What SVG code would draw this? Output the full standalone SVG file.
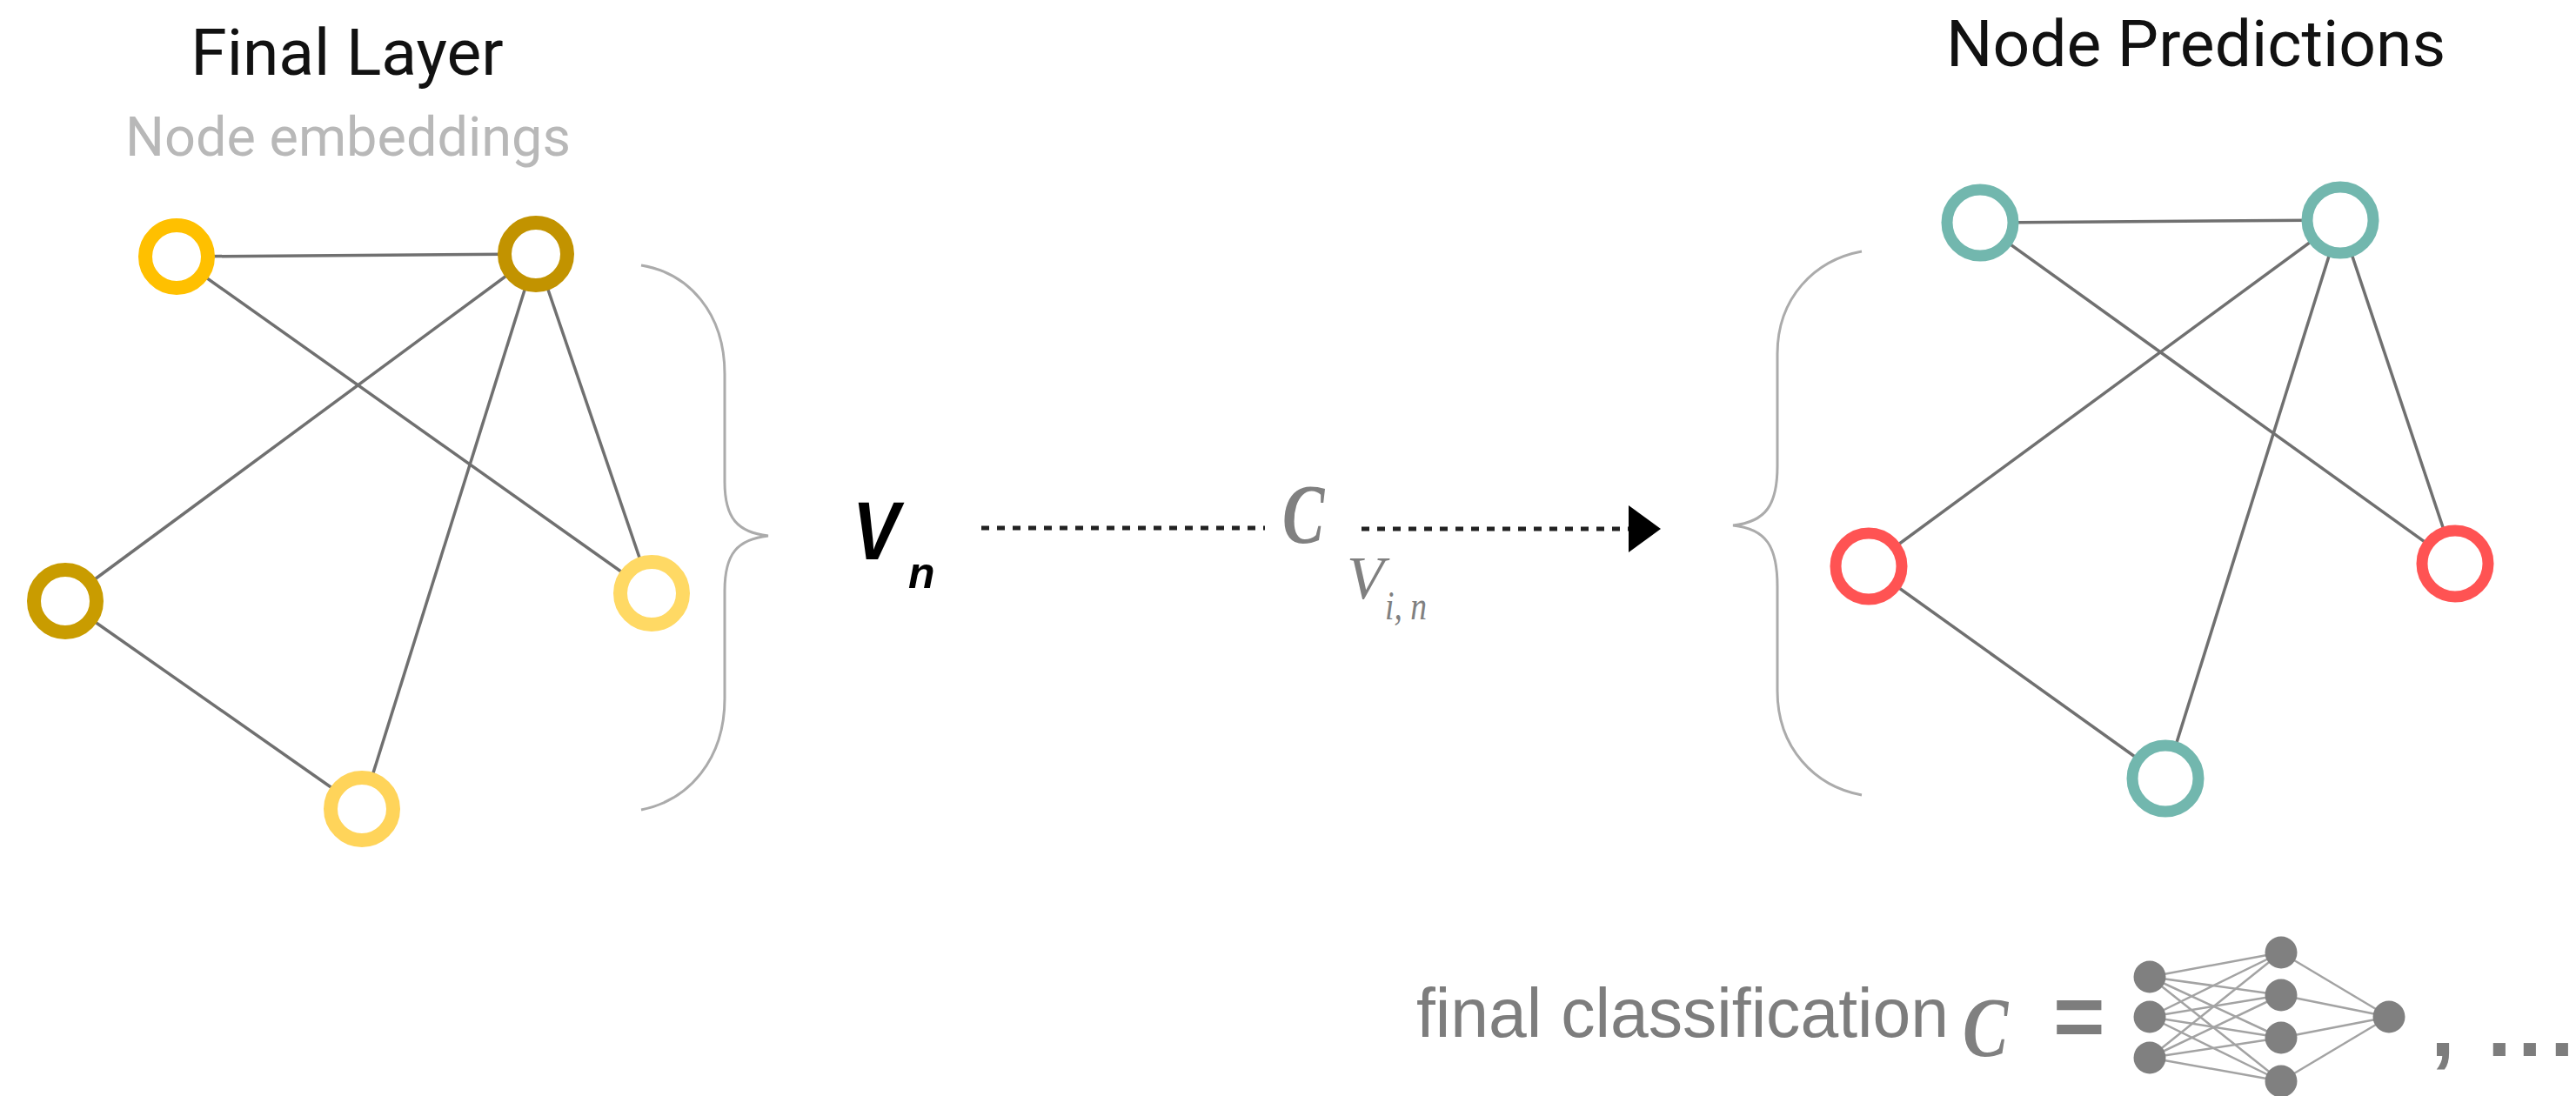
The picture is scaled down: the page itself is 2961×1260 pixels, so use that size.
<svg xmlns="http://www.w3.org/2000/svg" width="2961" height="1260" viewBox="0 0 2961 1260">
  <defs>
    <style>
      .title { font-family: Roboto, "Liberation Sans", sans-serif; font-size: 75px; fill: #111; text-anchor: middle; }
      .subtitle { font-family: Roboto, "Liberation Sans", sans-serif; font-size: 63px; fill: #b8b8b8; text-anchor: middle; }
      .edge { stroke: #707070; stroke-width: 3.5; fill: none; }
      .brace { stroke: #ababab; stroke-width: 3; fill: none; }
      .ringL { fill: #fff; stroke-width: 16; }
      .ringR { fill: #fff; stroke-width: 13; }
      .teal { stroke: #72b7ae; }
      .red { stroke: #ff5353; }
      .dotted { stroke: #222; stroke-width: 5; stroke-dasharray: 9 9; fill: none; }
      .math { font-family: "Liberation Serif", serif; font-style: italic; fill: #808080; }
      .sym { font-weight: bold; }
      .vn { font-family: "Liberation Sans", sans-serif; font-style: italic; font-weight: bold; fill: #000; }
      .caption { font-family: "Liberation Sans", sans-serif; fill: #7d7d7d; }
      .nnEdge { stroke: #a3a3a3; stroke-width: 2.5; }
      .nnNode { fill: #808080; }
    </style>
    <marker id="arrowHead" markerUnits="userSpaceOnUse" markerWidth="37" markerHeight="54" viewBox="0 0 37 54" refX="0" refY="27" orient="auto">
      <path d="M0,0 L37,27 L0,54 Z" fill="#000"/>
    </marker>
  </defs>

  <rect width="2961" height="1260" fill="#fff"/>

  <!-- headings -->
  <text class="title" x="399" y="86">Final Layer</text>
  <text class="subtitle" x="400" y="179">Node embeddings</text>
  <text class="title" x="2524" y="76">Node Predictions</text>

  <!-- edges of both graphs, braces and the mapping arrow -->
  <g id="connectors">
    <!-- final layer graph -->
    <line class="edge" x1="203" y1="295" x2="616" y2="292"/>
    <line class="edge" x1="203" y1="295" x2="749" y2="682"/>
    <line class="edge" x1="616" y1="292" x2="75" y2="691"/>
    <line class="edge" x1="616" y1="292" x2="416" y2="930"/>
    <line class="edge" x1="616" y1="292" x2="749" y2="682"/>
    <line class="edge" x1="75" y1="691" x2="416" y2="930"/>
    <!-- prediction graph -->
    <line class="edge" x1="2276" y1="256" x2="2690" y2="253"/>
    <line class="edge" x1="2276" y1="256" x2="2822" y2="648"/>
    <line class="edge" x1="2690" y1="253" x2="2148" y2="651"/>
    <line class="edge" x1="2690" y1="253" x2="2489" y2="895"/>
    <line class="edge" x1="2690" y1="253" x2="2822" y2="648"/>
    <line class="edge" x1="2148" y1="651" x2="2489" y2="895"/>
    <!-- braces -->
    <path class="brace" d="M737,305 C792,314 833,360 833,430 L833,554 C833,596 848,612 883,616 C848,620 833,636 833,679 L833,803 C833,873 792,920 737,931"/>
    <path class="brace" d="M2140,289 C2086,299 2043,342 2043,407 L2043,536 C2043,580 2030,600 1992,604 C2030,608 2043,628 2043,674 L2043,794 C2043,860 2086,904 2140,914"/>
    <!-- dotted mapping arrow -->
    <line class="dotted" x1="1128" y1="607" x2="1454" y2="607"/>
    <line class="dotted" x1="1565" y1="608" x2="1872" y2="608" marker-end="url(#arrowHead)"/>
  </g>

  <!-- final layer nodes -->
  <g id="node-a"><circle class="ringL" cx="203" cy="295" r="36" stroke="#ffc000"/></g>
  <g id="node-b"><circle class="ringL" cx="616" cy="292" r="36" stroke="#c29300"/></g>
  <g id="node-c"><circle class="ringL" cx="75" cy="691" r="36" stroke="#c99c00"/></g>
  <g id="node-d"><circle class="ringL" cx="749" cy="682" r="36" stroke="#ffd964"/></g>
  <g id="node-e"><circle class="ringL" cx="416" cy="930" r="36" stroke="#ffd45a"/></g>

  <!-- prediction nodes -->
  <g id="node-p"><circle class="ringR teal" cx="2276" cy="256" r="38"/></g>
  <g id="node-q"><circle class="ringR teal" cx="2690" cy="253" r="38"/></g>
  <g id="node-r"><circle class="ringR red" cx="2148" cy="651" r="38"/></g>
  <g id="node-s"><circle class="ringR red" cx="2822" cy="648" r="38"/></g>
  <g id="node-t"><circle class="ringR teal" cx="2489" cy="895" r="38"/></g>

  <!-- V_n -->
  <g id="label-vn">
    <text class="vn" transform="translate(980,643) scale(0.85,1)" font-size="95">V</text>
    <text class="vn" x="1044" y="676" font-size="50">n</text>
  </g>

  <!-- classifier symbol with V_{i,n} -->
  <g id="label-c">
    <text class="math sym" transform="translate(1474,624) scale(0.74,1)" font-size="98">C</text>
    <text class="math" x="1548" y="688" font-size="70">V</text>
    <text class="math" x="1592" y="712" font-size="46" textLength="48" lengthAdjust="spacingAndGlyphs">i, n</text>
  </g>

  <!-- caption: final classification c = MLP, ... -->
  <g id="caption">
    <text class="caption" x="1628" y="1192" font-size="80" textLength="612" lengthAdjust="spacingAndGlyphs">final classification</text>
    <text class="math sym" transform="translate(2256,1214) scale(0.8,1)" font-size="98">C</text>
    <text class="caption" x="2360" y="1204" font-size="102" font-weight="bold">=</text>
    <text class="caption" x="2794 2859 2894 2931" y="1214" font-size="100" font-weight="bold">,...</text>
  </g>

  <!-- small multilayer perceptron icon -->
  <g id="mlp-icon">
    <g class="nnEdge">
      <line x1="2471" y1="1123" x2="2622" y2="1095"/>
      <line x1="2471" y1="1123" x2="2622" y2="1144"/>
      <line x1="2471" y1="1123" x2="2622" y2="1193"/>
      <line x1="2471" y1="1123" x2="2622" y2="1243"/>
      <line x1="2471" y1="1169" x2="2622" y2="1095"/>
      <line x1="2471" y1="1169" x2="2622" y2="1144"/>
      <line x1="2471" y1="1169" x2="2622" y2="1193"/>
      <line x1="2471" y1="1169" x2="2622" y2="1243"/>
      <line x1="2471" y1="1216" x2="2622" y2="1095"/>
      <line x1="2471" y1="1216" x2="2622" y2="1144"/>
      <line x1="2471" y1="1216" x2="2622" y2="1193"/>
      <line x1="2471" y1="1216" x2="2622" y2="1243"/>
      <line x1="2622" y1="1095" x2="2746" y2="1169"/>
      <line x1="2622" y1="1144" x2="2746" y2="1169"/>
      <line x1="2622" y1="1193" x2="2746" y2="1169"/>
      <line x1="2622" y1="1243" x2="2746" y2="1169"/>
    </g>
    <circle class="nnNode" cx="2471" cy="1123" r="18.5"/>
    <circle class="nnNode" cx="2471" cy="1169" r="18.5"/>
    <circle class="nnNode" cx="2471" cy="1216" r="18.5"/>
    <circle class="nnNode" cx="2622" cy="1095" r="18.5"/>
    <circle class="nnNode" cx="2622" cy="1144" r="18.5"/>
    <circle class="nnNode" cx="2622" cy="1193" r="18.5"/>
    <circle class="nnNode" cx="2622" cy="1243" r="18.5"/>
    <circle class="nnNode" cx="2746" cy="1169" r="18.5"/>
  </g>
</svg>
